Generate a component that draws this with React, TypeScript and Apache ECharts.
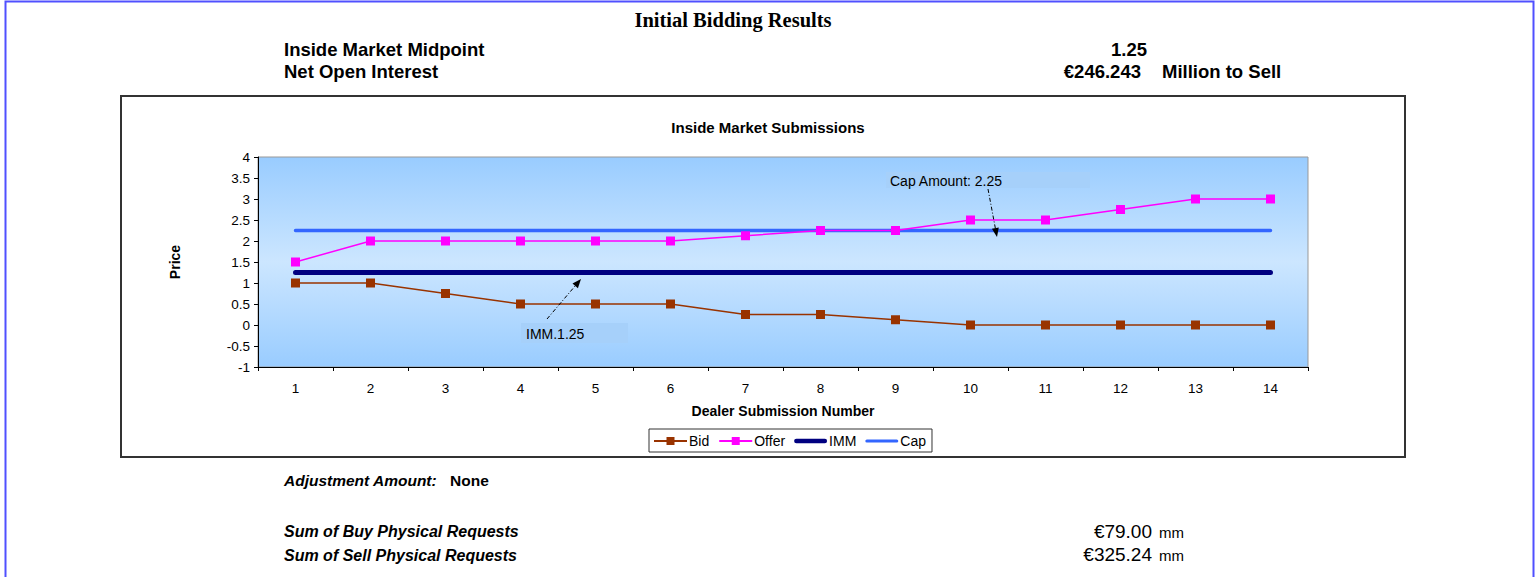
import React, { useEffect, useRef } from "react";
import * as echarts from "echarts";

const categories = ["1", "2", "3", "4", "5", "6", "7", "8", "9", "10", "11", "12", "13", "14"];
const bidValues = [1, 1, 0.75, 0.5, 0.5, 0.5, 0.25, 0.25, 0.125, 0, 0, 0, 0, 0];
const offerValues = [1.5, 2, 2, 2, 2, 2, 2.125, 2.25, 2.25, 2.5, 2.5, 2.75, 3, 3];
const immValue = 1.25;
const capValue = 2.25;
const immValues = categories.map(() => immValue);
const capValues = categories.map(() => capValue);

const SANS = "'Liberation Sans', Arial, sans-serif";
const SERIF = "'Liberation Serif', 'Times New Roman', serif";

export default function App() {
  const ref = useRef<HTMLDivElement>(null);
  useEffect(() => {
    document.body.style.margin = "0";
    const chart = echarts.init(ref.current!, null, { renderer: "svg" });
    const txt = (x: number, y: number, text: string, opts: any = {}) => ({
      type: "text",
      x,
      y,
      z: 10,
      style: {
        text,
        fill: "#000",
        fontFamily: SANS,
        fontSize: 13,
        textVerticalAlign: "middle",
        ...opts,
      },
    });
    const option: any = {
      animation: false,
      backgroundColor: "#fff",
      textStyle: { fontFamily: SANS },
      title: {
        text: "Inside Market Submissions",
        left: 763,
        top: 115,
        textAlign: "center",
        textStyle: { fontFamily: SANS, fontSize: 15, fontWeight: "bold", color: "#000" },
      },
      legend: {
        left: 649,
        top: 429,
        itemWidth: 33,
        itemHeight: 10,
        itemGap: 9,
        padding: [5, 6, 4, 4],
        borderColor: "#333",
        borderWidth: 1,
        textStyle: { fontFamily: SANS, fontSize: 14, color: "#000", padding: [0, 0, 0, -3] },
        data: [
          { name: "Bid" },
          { name: "Offer" },
          { name: "IMM", icon: "path://M2.5,0H33.5A2.5,2.5,0,0,1,33.5,5H2.5A2.5,2.5,0,0,1,2.5,0Z" },
          { name: "Cap", icon: "path://M1.75,0H34.25A1.75,1.75,0,0,1,34.25,3.5H1.75A1.75,1.75,0,0,1,1.75,0Z" },
        ],
      },
      grid: {
        left: 258,
        right: 231,
        top: 157,
        bottom: 210,
        show: true,
        borderColor: "#999",
        borderWidth: 1,
        backgroundColor: new echarts.graphic.LinearGradient(0, 0, 0, 1, [
          { offset: 0, color: "#99ccff" },
          { offset: 0.5, color: "#cce6ff" },
          { offset: 1, color: "#99ccff" },
        ]),
      },
      xAxis: {
        type: "category",
        data: categories,
        boundaryGap: true,
        name: "Dealer Submission Number",
        nameLocation: "middle",
        nameGap: 37,
        nameTextStyle: { fontFamily: SANS, fontSize: 14, fontWeight: "bold", color: "#000" },
        axisLine: { onZero: false, lineStyle: { color: "#000", width: 1 } },
        axisTick: { show: true, length: 4, inside: false, lineStyle: { color: "#000" } },
        axisLabel: { fontFamily: SANS, fontSize: 13.5, color: "#000", margin: 14 },
        splitLine: { show: false },
      },
      yAxis: {
        type: "value",
        min: -1,
        max: 4,
        interval: 0.5,
        name: "Price",
        nameLocation: "middle",
        nameGap: 76,
        nameRotate: 90,
        nameTextStyle: { fontFamily: SANS, fontSize: 14, fontWeight: "bold", color: "#000" },
        axisLine: { show: true, lineStyle: { color: "#000", width: 1 } },
        axisTick: { show: true, length: 4, lineStyle: { color: "#000" } },
        axisLabel: { fontFamily: SANS, fontSize: 13.5, color: "#000", margin: 8 },
        splitLine: { show: false },
      },
      series: [
        {
          name: "Bid",
          type: "line",
          data: bidValues,
          symbol: "rect",
          symbolSize: 9,
          itemStyle: { color: "#993300" },
          lineStyle: { color: "#993300", width: 1.5 },
          z: 5,
        },
        {
          name: "Offer",
          type: "line",
          data: offerValues,
          symbol: "rect",
          symbolSize: 9,
          itemStyle: { color: "#ff00ff" },
          lineStyle: { color: "#ff00ff", width: 1.5 },
          z: 5,
        },
        {
          name: "IMM",
          type: "line",
          data: immValues,
          symbol: "none",
          itemStyle: { color: "#000080" },
          lineStyle: { color: "#000080", width: 5, cap: "round" },
          z: 3,
        },
        {
          name: "Cap",
          type: "line",
          data: capValues,
          symbol: "none",
          itemStyle: { color: "#3366ff" },
          lineStyle: { color: "#3366ff", width: 3.5, cap: "round" },
          z: 3,
        },
      ],
      graphic: [
        // outer page frame
        {
          type: "polyline",
          z: 1,
          shape: { points: [[5.5, 600], [5.5, 1.5], [1533.5, 1.5], [1533.5, 600]] },
          style: { stroke: "#5050ff", lineWidth: 2, fill: null },
        },
        // chart box
        {
          type: "rect",
          z: 1,
          shape: { x: 121, y: 96, width: 1284, height: 361 },
          style: { stroke: "#333", lineWidth: 2, fill: null },
        },
        txt(733, 20, "Initial Bidding Results", { fontFamily: SERIF, fontSize: 20.5, fontWeight: "bold", textAlign: "center" }),
        txt(284, 49, "Inside Market Midpoint", { fontSize: 18.5, fontWeight: "bold" }),
        txt(284, 71, "Net Open Interest", { fontSize: 18.5, fontWeight: "bold" }),
        txt(1147, 49, "1.25", { fontSize: 18.5, fontWeight: "bold", textAlign: "right" }),
        txt(1141, 71, "€246.243", { fontSize: 18.5, fontWeight: "bold", textAlign: "right" }),
        txt(1162, 71, "Million to Sell", { fontSize: 18.5, fontWeight: "bold" }),
        // annotations
        {
          type: "rect",
          z: 8,
          shape: { x: 886, y: 172, width: 204, height: 16 },
          style: { fill: "#a6d0fa" },
        },
        txt(890, 181, "Cap Amount: 2.25", { fontSize: 14 }),
        {
          type: "line",
          z: 9,
          shape: { x1: 988, y1: 189, x2: 995.5, y2: 229 },
          style: { stroke: "#000", lineWidth: 1, lineDash: [4, 2, 1, 2] },
        },
        {
          type: "polygon",
          z: 9,
          shape: { points: [[997, 237], [998.8, 227.6], [991.9, 228.8]] },
          style: { fill: "#000" },
        },
        {
          type: "rect",
          z: 8,
          shape: { x: 521, y: 323, width: 107, height: 20 },
          style: { fill: "#a6d0fa" },
        },
        txt(526, 334, "IMM.1.25", { fontSize: 14 }),
        {
          type: "line",
          z: 9,
          shape: { x1: 547, y1: 319, x2: 575.5, y2: 285.5 },
          style: { stroke: "#000", lineWidth: 1, lineDash: [4, 2, 1, 2] },
        },
        {
          type: "polygon",
          z: 9,
          shape: { points: [[581, 279], [577.9, 288.2], [572.5, 283.6]] },
          style: { fill: "#000" },
        },
        // bottom texts
        txt(284, 480, "Adjustment Amount:", { fontSize: 15.5, fontWeight: "bold", fontStyle: "italic" }),
        txt(450, 480, "None", { fontSize: 15.5, fontWeight: "bold" }),
        txt(284, 531, "Sum of Buy Physical Requests", { fontSize: 16, fontWeight: "bold", fontStyle: "italic" }),
        txt(284, 555, "Sum of Sell Physical Requests", { fontSize: 16, fontWeight: "bold", fontStyle: "italic" }),
        txt(1152, 531, "€79.00", { fontSize: 19, textAlign: "right" }),
        txt(1159, 532, "mm", { fontSize: 15 }),
        txt(1152, 554, "€325.24", { fontSize: 19, textAlign: "right" }),
        txt(1159, 555, "mm", { fontSize: 15 }),
      ],
    };
    chart.setOption(option);
    return () => chart.dispose();
  }, []);
  return (
    <div
      ref={ref}
      style={{ position: "absolute", left: 0, top: 0, width: 1539, height: 577 }}
    />
  );
}
